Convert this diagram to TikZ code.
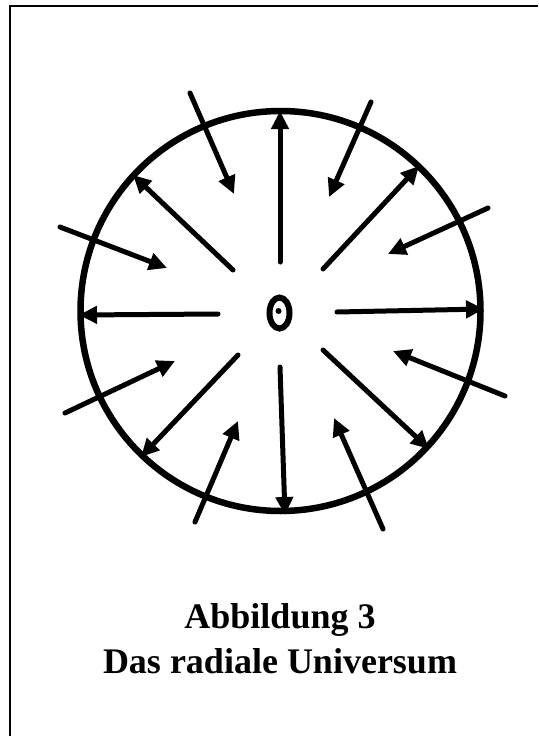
\documentclass[tikz,border=0pt]{standalone}
\usepackage{fontspec}
\setmainfont{Liberation Serif}
\usetikzlibrary{arrows.meta,shapes.geometric}
\begin{document}
\begin{tikzpicture}[x=1pt,y=-1pt,
  ray/.style={line width=5pt, line cap=round, -{Triangle[length=18pt,width=17pt]}},
  caption/.style={font=\fontsize{36}{40}\selectfont\bfseries, anchor=base, inner sep=0pt}]
\useasboundingbox (0,0) rectangle (538,736);
% frame
\draw[line width=2.5pt] (10,736) -- (10,6) -- (538,6);
% circle
\node[circle, draw, line width=6.5pt, minimum size=400pt, inner sep=0pt] (rim) at (280.5,311) {};
% centre
\node[ellipse, draw, line width=6pt, minimum width=20pt, minimum height=31pt, inner sep=0pt] (core) at (279.5,313) {};
\fill (278.5,311) circle (3pt);
% outward rays
\coordinate (o1s) at (280,262); \coordinate (o1e) at (280,111);
\coordinate (o2s) at (233,270); \coordinate (o2e) at (133,175);
\coordinate (o3s) at (218,314); \coordinate (o3e) at (79,315);
\coordinate (o4s) at (238,355); \coordinate (o4e) at (141,457);
\coordinate (o5s) at (280,367); \coordinate (o5e) at (285,515);
\coordinate (o6s) at (323,350); \coordinate (o6e) at (429,449);
\coordinate (o7s) at (337,312); \coordinate (o7e) at (484,309);
\coordinate (o8s) at (323,269); \coordinate (o8e) at (419,166);
\foreach \i in {1,...,8} \draw[ray] (o\i s) -- (o\i e);
% inward rays
\coordinate (i1s) at (190,93);  \coordinate (i1e) at (234,194);
\coordinate (i2s) at (60,227);  \coordinate (i2e) at (167,268);
\coordinate (i3s) at (65,413);  \coordinate (i3e) at (175,361);
\coordinate (i4s) at (195,522); \coordinate (i4e) at (238,421);
\coordinate (i5s) at (383,529); \coordinate (i5e) at (334,418);
\coordinate (i6s) at (505,396); \coordinate (i6e) at (393,351);
\coordinate (i7s) at (488,208); \coordinate (i7e) at (388,254);
\coordinate (i8s) at (371,102); \coordinate (i8e) at (329,197);
\foreach \i in {1,...,8} \draw[ray] (i\i s) -- (i\i e);
% caption
\node[caption] (t1) at (280,628) {Abbildung 3};
\node[caption] (t2) at (280,673) {Das radiale Universum};
\end{tikzpicture}
\end{document}
